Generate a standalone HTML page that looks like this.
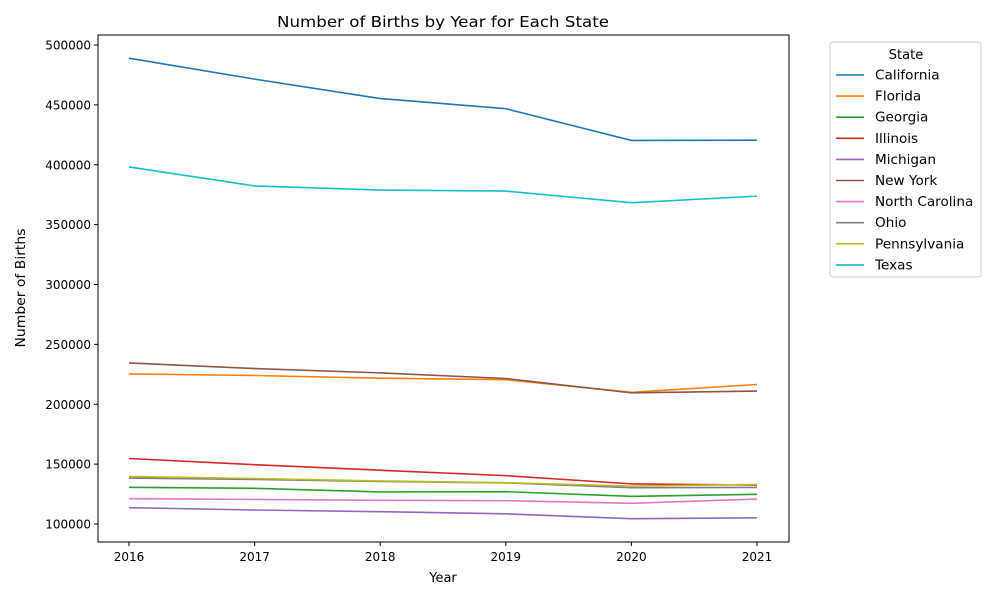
<!DOCTYPE html>
<html><head><meta charset="utf-8"><style>
body{margin:0;background:#fff;font-family:"Liberation Sans","DejaVu Sans",sans-serif;}
svg text{font-family:"DejaVu Sans","Liberation Sans",sans-serif;}
</style></head><body>
<svg id="chart" width="1000" height="600" xmlns="http://www.w3.org/2000/svg">
<rect width="1000" height="600" fill="#fff"/>
<text x="443" y="27" font-size="15" text-anchor="middle" textLength="332" lengthAdjust="spacingAndGlyphs">Number of Births by Year for Each State</text>
<g id="grid"></g>
<g id="lines"></g>
<rect x="98" y="35" width="691" height="507" fill="none" stroke="#000" stroke-width="1"/>
<text x="443" y="582" font-size="13" text-anchor="middle">Year</text>
<text x="25" y="288" font-size="13" text-anchor="middle" transform="rotate(-90 25 288)" textLength="119" lengthAdjust="spacingAndGlyphs">Number of Births</text>
<g id="legend"></g>
</svg>
<script>
const years=[2016,2017,2018,2019,2020,2021];
const states=["California","Florida","Georgia","Illinois","Michigan","New York","North Carolina","Ohio","Pennsylvania","Texas"];
const colors=["#1f77b4","#ff7f0e","#2ca02c","#d62728","#9467bd","#8c564b","#e377c2","#7f7f7f","#bcbd22","#17becf"];
const california=[489000,471500,455300,446800,420300,420500];
const florida=[225300,224000,221800,220500,210000,216500];
const georgia=[130600,129800,126800,127000,123100,124800];
const illinois=[154700,149500,144900,140400,133500,132500];
const michigan=[113600,111700,110300,108500,104400,105200];
const newYork=[234500,229800,226200,221500,209500,211000];
const northCarolina=[121100,120500,119800,119500,117300,120800];
const ohio=[138400,137200,135500,134300,130300,130500];
const pennsylvania=[139700,138000,136000,134500,131700,133000];
const texas=[398200,382300,378900,378000,368300,373800];
const series=[california,florida,georgia,illinois,michigan,newYork,northCarolina,ohio,pennsylvania,texas];
const yTicks=[100000,150000,200000,250000,300000,350000,400000,450000,500000];
const NS="http://www.w3.org/2000/svg";
const xs=y=>129+(y-2016)*125.6;
const ys=v=>524-(v-100000)*479/400000;
function mk(t,a,p){const e=document.createElementNS(NS,t);for(const k in a)e.setAttribute(k,a[k]);p.appendChild(e);return e;}
const grid=document.getElementById('grid');
years.forEach(y=>{
  const g=mk('g',{},grid);
  
  
  mk('line',{x1:xs(y),x2:xs(y),y1:542,y2:546,stroke:'#000'},g);
  const t=mk('text',{x:xs(y),y:561,'font-size':12,'text-anchor':'middle'},g);t.textContent=y;
});
yTicks.forEach(v=>{
  const g=mk('g',{},grid);
  
  
  mk('line',{x1:94,x2:98,y1:ys(v),y2:ys(v),stroke:'#000'},g);
  const t=mk('text',{x:91,y:ys(v)+4.5,'font-size':12,'text-anchor':'end'},g);t.textContent=v;
});
const lines=document.getElementById('lines');
series.forEach((s,i)=>{
  const p=mk('polyline',{points:s.map((v,j)=>xs(years[j])+','+ys(v)).join(' '),fill:'none',stroke:colors[i],'stroke-width':1.6},lines);
  
  
});
const lg=document.getElementById('legend');
mk('rect',{x:830,y:42,width:151,height:235,rx:3,fill:'#fff',stroke:'#ccc'},lg);
const lt=mk('text',{x:906,y:59,'font-size':13,'text-anchor':'middle'},lg);lt.textContent='State';
states.forEach((s,i)=>{
  const g=mk('g',{},lg);
  
  
  const y=75+i*21.1;
  mk('line',{x1:836,x2:864,y1:y,y2:y,stroke:colors[i],'stroke-width':1.6},g);
  const t=mk('text',{x:875,y:y+4.5,'font-size':13.6},g);t.textContent=s;
});
</script>
</body></html>
